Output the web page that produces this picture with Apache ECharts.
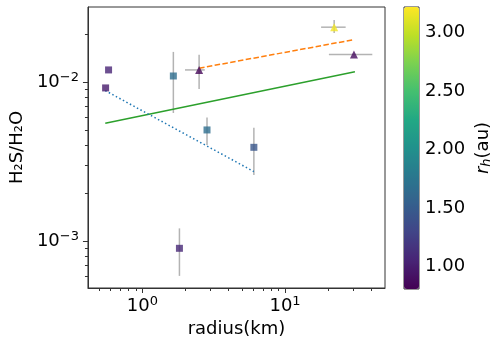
<!DOCTYPE html>
<html>
<head>
<meta charset="utf-8">
<script src="https://cdn.jsdelivr.net/npm/echarts@6/dist/echarts.min.js"></script>
<style>
  html, body { margin: 0; padding: 0; background: #fff; }
  #main { width: 499px; height: 346px; }
</style>
</head>
<body>
<div id="main"></div>
<script>
// square markers
var sqRadius = [0.58, 0.553, 1.65, 2.84, 6.05, 1.82];
var sqRatio = [0.0119, 0.00917, 0.0109, 0.00499, 0.00388, 0.000899];
var sqRh = [1.05, 0.98, 1.68, 1.68, 1.45, 1.08];
var sqRatioLo = [null, null, 0.00638, 0.00402, 0.0026, 0.000603];
var sqRatioHi = [null, null, 0.01545, 0.00597, 0.00516, 0.0012];

// triangle markers
var triRadius = [2.5, 22.1, 30.4];
var triRatio = [0.0119, 0.0221, 0.0149];
var triRh = [0.85, 3.18, 0.88];
var triRadiusLo = [1.99, 17.9, 20.3];
var triRadiusHi = [2.74, 26.6, 40.9];
var triRatioLo = [0.00903, 0.0203, null];
var triRatioHi = [0.0148, 0.0245, null];

// fitted lines
var greenX = [0.55, 30.9], greenY = [0.00549, 0.0116];
var orangeX = [2.5, 29.6], orangeY = [0.0122, 0.01837];
var blueX = [0.55, 6.05], blueY = [0.00882, 0.00273];

// axes
var xMajor = [1, 10];
var xMinor = [0.5, 0.6, 0.7, 0.8, 0.9, 2, 3, 4, 5, 6, 7, 8, 9, 20, 30, 40];
var yMajor = [0.001, 0.01];
var yMinor = [0.0006, 0.0007, 0.0008, 0.0009, 0.002, 0.003, 0.004, 0.005, 0.006, 0.007, 0.008, 0.009, 0.02];
var cbTicks = [1.0, 1.5, 2.0, 2.5, 3.0];

var viridis = ['#440154', '#482475', '#414487', '#355f8d', '#2a788e', '#21918c',
               '#22a884', '#44bf70', '#7ad151', '#bddf26', '#fde725'];

var FONT = 'DejaVu Sans';
var AX = '#333';

function pow10(v) {
    var e = Math.round(Math.log10(v));
    return '{b|10}{s|' + String(e).replace('-', '\u2212') + '}';
}
var powRich = {
    b: { fontSize: 18, fontFamily: FONT, color: '#000' },
    s: { fontSize: 13, fontFamily: FONT, color: '#000', padding: [0, 0, 9, 0] }
};

var sqData = sqRadius.map(function (x, i) { return [x, sqRatio[i], sqRh[i]]; });
var triData = triRadius.map(function (x, i) { return [x, triRatio[i], triRh[i]]; });

var errData = [];
sqRadius.forEach(function (x, i) {
    var y = sqRatio[i];
    errData.push([x, y, x, x, sqRatioLo[i] || y, sqRatioHi[i] || y]);
});
triRadius.forEach(function (x, i) {
    var y = triRatio[i];
    errData.push([x, y, triRadiusLo[i] || x, triRadiusHi[i] || x, triRatioLo[i] || y, triRatioHi[i] || y]);
});

function pairs(xs, ys) { return xs.map(function (x, i) { return [x, ys[i]]; }); }

var chart = echarts.init(document.getElementById('main'));
var option = {
    animation: false,
    textStyle: { fontFamily: FONT },
    grid: [
        { left: 83, top: 7, width: 302, height: 281, show: true, borderColor: AX, borderWidth: 1 },
        { left: 404, top: 7, width: 15, height: 282, show: true, borderColor: AX, borderWidth: 1 }
    ],
    visualMap: {
        type: 'continuous',
        min: 0.81, max: 3.22,
        dimension: 2,
        seriesIndex: [2, 3],
        calculable: false,
        left: 404, top: 7,
        itemWidth: 15, itemHeight: 282,
        padding: 0,
        text: null,
        inRange: { color: viridis }
    },
    xAxis: [
        {
            type: 'log', gridIndex: 0, position: 'bottom', min: 0.416, max: 50.2,
            axisLine: { show: true, lineStyle: { color: AX } },
            axisTick: { show: true, customValues: xMajor, length: 5, lineStyle: { color: AX } },
            axisLabel: { customValues: xMajor, formatter: pow10, rich: powRich, margin: 7 },
            splitLine: { show: false },
            name: 'radius(km)', nameLocation: 'middle', nameGap: 30,
            nameTextStyle: { fontSize: 18, color: '#000', fontFamily: FONT }
        },
        {
            type: 'log', gridIndex: 0, position: 'bottom', min: 0.416, max: 50.2,
            axisLine: { show: false },
            axisTick: { show: true, customValues: xMinor, length: 3, lineStyle: { color: AX } },
            axisLabel: { show: false },
            splitLine: { show: false }
        },
        {
            type: 'value', gridIndex: 1, min: 0, max: 1, show: false
        }
    ],
    yAxis: [
        {
            type: 'log', gridIndex: 0, position: 'left', min: 5.06e-4, max: 2.96e-2,
            axisLine: { show: true, lineStyle: { color: AX } },
            axisTick: { show: true, customValues: yMajor, length: 5, lineStyle: { color: AX } },
            axisLabel: { customValues: yMajor, formatter: pow10, rich: powRich, margin: 9 },
            splitLine: { show: false },
            name: 'H\u2082S/H\u2082O', nameLocation: 'middle', nameGap: 60,
            nameTextStyle: { fontSize: 18, color: '#000', fontFamily: FONT }
        },
        {
            type: 'log', gridIndex: 0, position: 'left', min: 5.06e-4, max: 2.96e-2,
            axisLine: { show: false },
            axisTick: { show: true, customValues: yMinor, length: 3, lineStyle: { color: AX } },
            axisLabel: { show: false },
            splitLine: { show: false }
        },
        {
            type: 'value', gridIndex: 1, position: 'right', min: 0.81, max: 3.22,
            axisLine: { show: false },
            axisTick: { show: true, customValues: cbTicks, length: 5, lineStyle: { color: AX } },
            axisLabel: {
                customValues: cbTicks, margin: 6, fontSize: 18, color: '#000', fontFamily: FONT,
                formatter: function (v) { return v.toFixed(2); }
            },
            splitLine: { show: false },
            name: '{i|r}{h|h}{n|(au)}', nameLocation: 'middle', nameGap: 55, nameRotate: 90,
            nameTextStyle: {
                rich: {
                    i: { fontSize: 18, fontStyle: 'italic', fontFamily: FONT, color: '#000' },
                    h: { fontSize: 13, fontStyle: 'italic', fontFamily: FONT, color: '#000', padding: [6, 0, 0, 0] },
                    n: { fontSize: 18, fontFamily: FONT, color: '#000' }
                }
            }
        }
    ],
    series: [
        {
            type: 'custom',
            xAxisIndex: 0, yAxisIndex: 0,
            z: 1,
            data: errData,
            encode: { x: [0, 2, 3], y: [1, 4, 5] },
            renderItem: function (params, api) {
                var x = api.value(0), y = api.value(1);
                var pL = api.coord([api.value(2), y]);
                var pR = api.coord([api.value(3), y]);
                var pB = api.coord([x, api.value(4)]);
                var pT = api.coord([x, api.value(5)]);
                var st = { stroke: '#b3b3b3', lineWidth: 1.5 };
                return {
                    type: 'group',
                    children: [
                        { type: 'line', shape: { x1: pL[0], y1: pL[1], x2: pR[0], y2: pR[1] }, style: st },
                        { type: 'line', shape: { x1: pB[0], y1: pB[1], x2: pT[0], y2: pT[1] }, style: st }
                    ]
                };
            }
        },
        {
            type: 'line', xAxisIndex: 0, yAxisIndex: 0, z: 2,
            data: pairs(greenX, greenY), showSymbol: false, symbol: 'none',
            lineStyle: { color: '#2ca02c', width: 1.5 }
        },
        {
            type: 'scatter', xAxisIndex: 0, yAxisIndex: 0, z: 4,
            data: sqData, symbol: 'rect', symbolSize: 7
        },
        {
            type: 'scatter', xAxisIndex: 0, yAxisIndex: 0, z: 4,
            data: triData, symbol: 'triangle', symbolSize: 8
        },
        {
            type: 'line', xAxisIndex: 0, yAxisIndex: 0, z: 2,
            data: pairs(orangeX, orangeY), showSymbol: false, symbol: 'none',
            lineStyle: { color: '#ff7f0e', width: 1.5, type: [5.5, 2.4] }
        },
        {
            type: 'line', xAxisIndex: 0, yAxisIndex: 0, z: 2,
            data: pairs(blueX, blueY), showSymbol: false, symbol: 'none',
            lineStyle: { color: '#1f77b4', width: 1.5, type: [1.5, 2.5] }
        }
    ]
};
chart.setOption(option);
</script>
</body>
</html>
